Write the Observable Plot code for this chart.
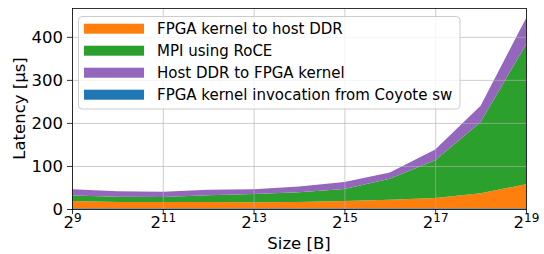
<!DOCTYPE html>
<html><head><meta charset="utf-8">
<script src="https://cdn.jsdelivr.net/npm/d3@7"></script>
<script src="https://cdn.jsdelivr.net/npm/@observablehq/plot@0.6"></script>
<style>body{margin:0;background:#fff} #chart{width:544px;height:254px}</style>
</head><body><div id="chart"></div>
<script>
const sizes = [512, 1024, 2048, 4096, 8192, 16384, 32768, 65536, 131072, 262144, 524288];
const invocation   = [2, 2, 2, 2, 2, 2, 2, 2, 2, 2, 2];
const kernelToHost = [16.5, 14.5, 14, 14, 13.5, 14.5, 16.5, 19.5, 23.5, 34.5, 55.5];
const mpiRoce      = [13, 12, 12, 16, 19.5, 22.5, 28, 49, 87.5, 165.5, 324.5];
const hostToKernel = [14.5, 12.5, 12, 13, 11, 13, 16.5, 14.5, 25, 38, 61];
const seriesNames = ["FPGA kernel invocation from Coyote sw", "FPGA kernel to host DDR", "MPI using RoCE", "Host DDR to FPGA kernel"];
const seriesColors = ["#1f77b4", "#ff7f0e", "#2ca02c", "#9467bd"];
const legendOrder = [1, 2, 3, 0];
const xTicks = [512, 2048, 8192, 32768, 131072, 524288];
const yTicks = [0, 100, 200, 300, 400];
const xLabel = "Size [B]";
const yLabel = "Latency [µs]";

const table = [];
[invocation, kernelToHost, mpiRoce, hostToKernel].forEach((vals, i) =>
  vals.forEach((v, j) => table.push({size: sizes[j], latency: v, series: seriesNames[i]})));

const ML = 72, MR = 18, MT = 8, MB = 45, W = 544, H = 254;

const plot = Plot.plot({
  width: W, height: H, marginLeft: ML, marginRight: MR, marginTop: MT, marginBottom: MB,
  style: {fontFamily: "DejaVu Sans", fontSize: "16.5px", background: "white", color: "black", overflow: "visible"},
  x: {type: "log", base: 2, domain: [512, 524288]},
  y: {domain: [0, 467]},
  color: {domain: seriesNames, range: seriesColors},
  marks: [
    Plot.areaY(table, {x: "size", y: "latency", fill: "series", order: seriesNames}),
    Plot.gridX(xTicks, {stroke: "#b0b0b0", strokeOpacity: 0.8, strokeWidth: 0.8}),
    Plot.gridY(yTicks, {stroke: "#b0b0b0", strokeOpacity: 0.8, strokeWidth: 0.8}),
    Plot.frame({stroke: "black", strokeWidth: 0.8}),
    Plot.axisX(xTicks, {tickSize: 5, tickPadding: 2, strokeWidth: 0.8, label: null,
      tickFormat: d => String(Math.round(Math.log2(d)))}),
    Plot.axisY(yTicks, {tickSize: 5, tickPadding: 4.5, strokeWidth: 0.8, label: null})
  ]
});
document.getElementById("chart").appendChild(plot);

const svg = d3.select(plot);
svg.selectAll('g[aria-label="x-axis tick label"] text').each(function() {
  const exp = this.textContent;
  const t = d3.select(this);
  t.text("");
  t.append("tspan").text("2");
  t.append("tspan").attr("font-size", "12px").attr("dy", "-0.48em").text(exp);
});

const cx = (ML + (W - MR)) / 2, cy = (MT + (H - MB)) / 2;
svg.append("text").attr("x", cx).attr("y", 249).attr("text-anchor", "middle")
  .attr("font-size", "16.5px").text(xLabel);
svg.append("text").attr("transform", `translate(24.5,${cy}) rotate(-90)`).attr("text-anchor", "middle")
  .attr("font-size", "16.5px").text(yLabel);

const lg = svg.append("g").attr("font-size", "15px").attr("text-anchor", "start");
lg.append("rect").attr("x", 78.5).attr("y", 16.5).attr("width", 381.5).attr("height", 92.5)
  .attr("rx", 3.5).attr("fill", "white").attr("fill-opacity", 0.8).attr("stroke", "#cccccc").attr("stroke-width", 1);
legendOrder.forEach((si, k) => {
  const c = 28.7 + k * 22;
  lg.append("rect").attr("x", 84).attr("y", c - 5).attr("width", 60).attr("height", 10).attr("fill", seriesColors[si]);
  lg.append("text").attr("x", 157).attr("y", c + 5.3).attr("text-anchor", "start").text(seriesNames[si]);
});
</script>
</body></html>
